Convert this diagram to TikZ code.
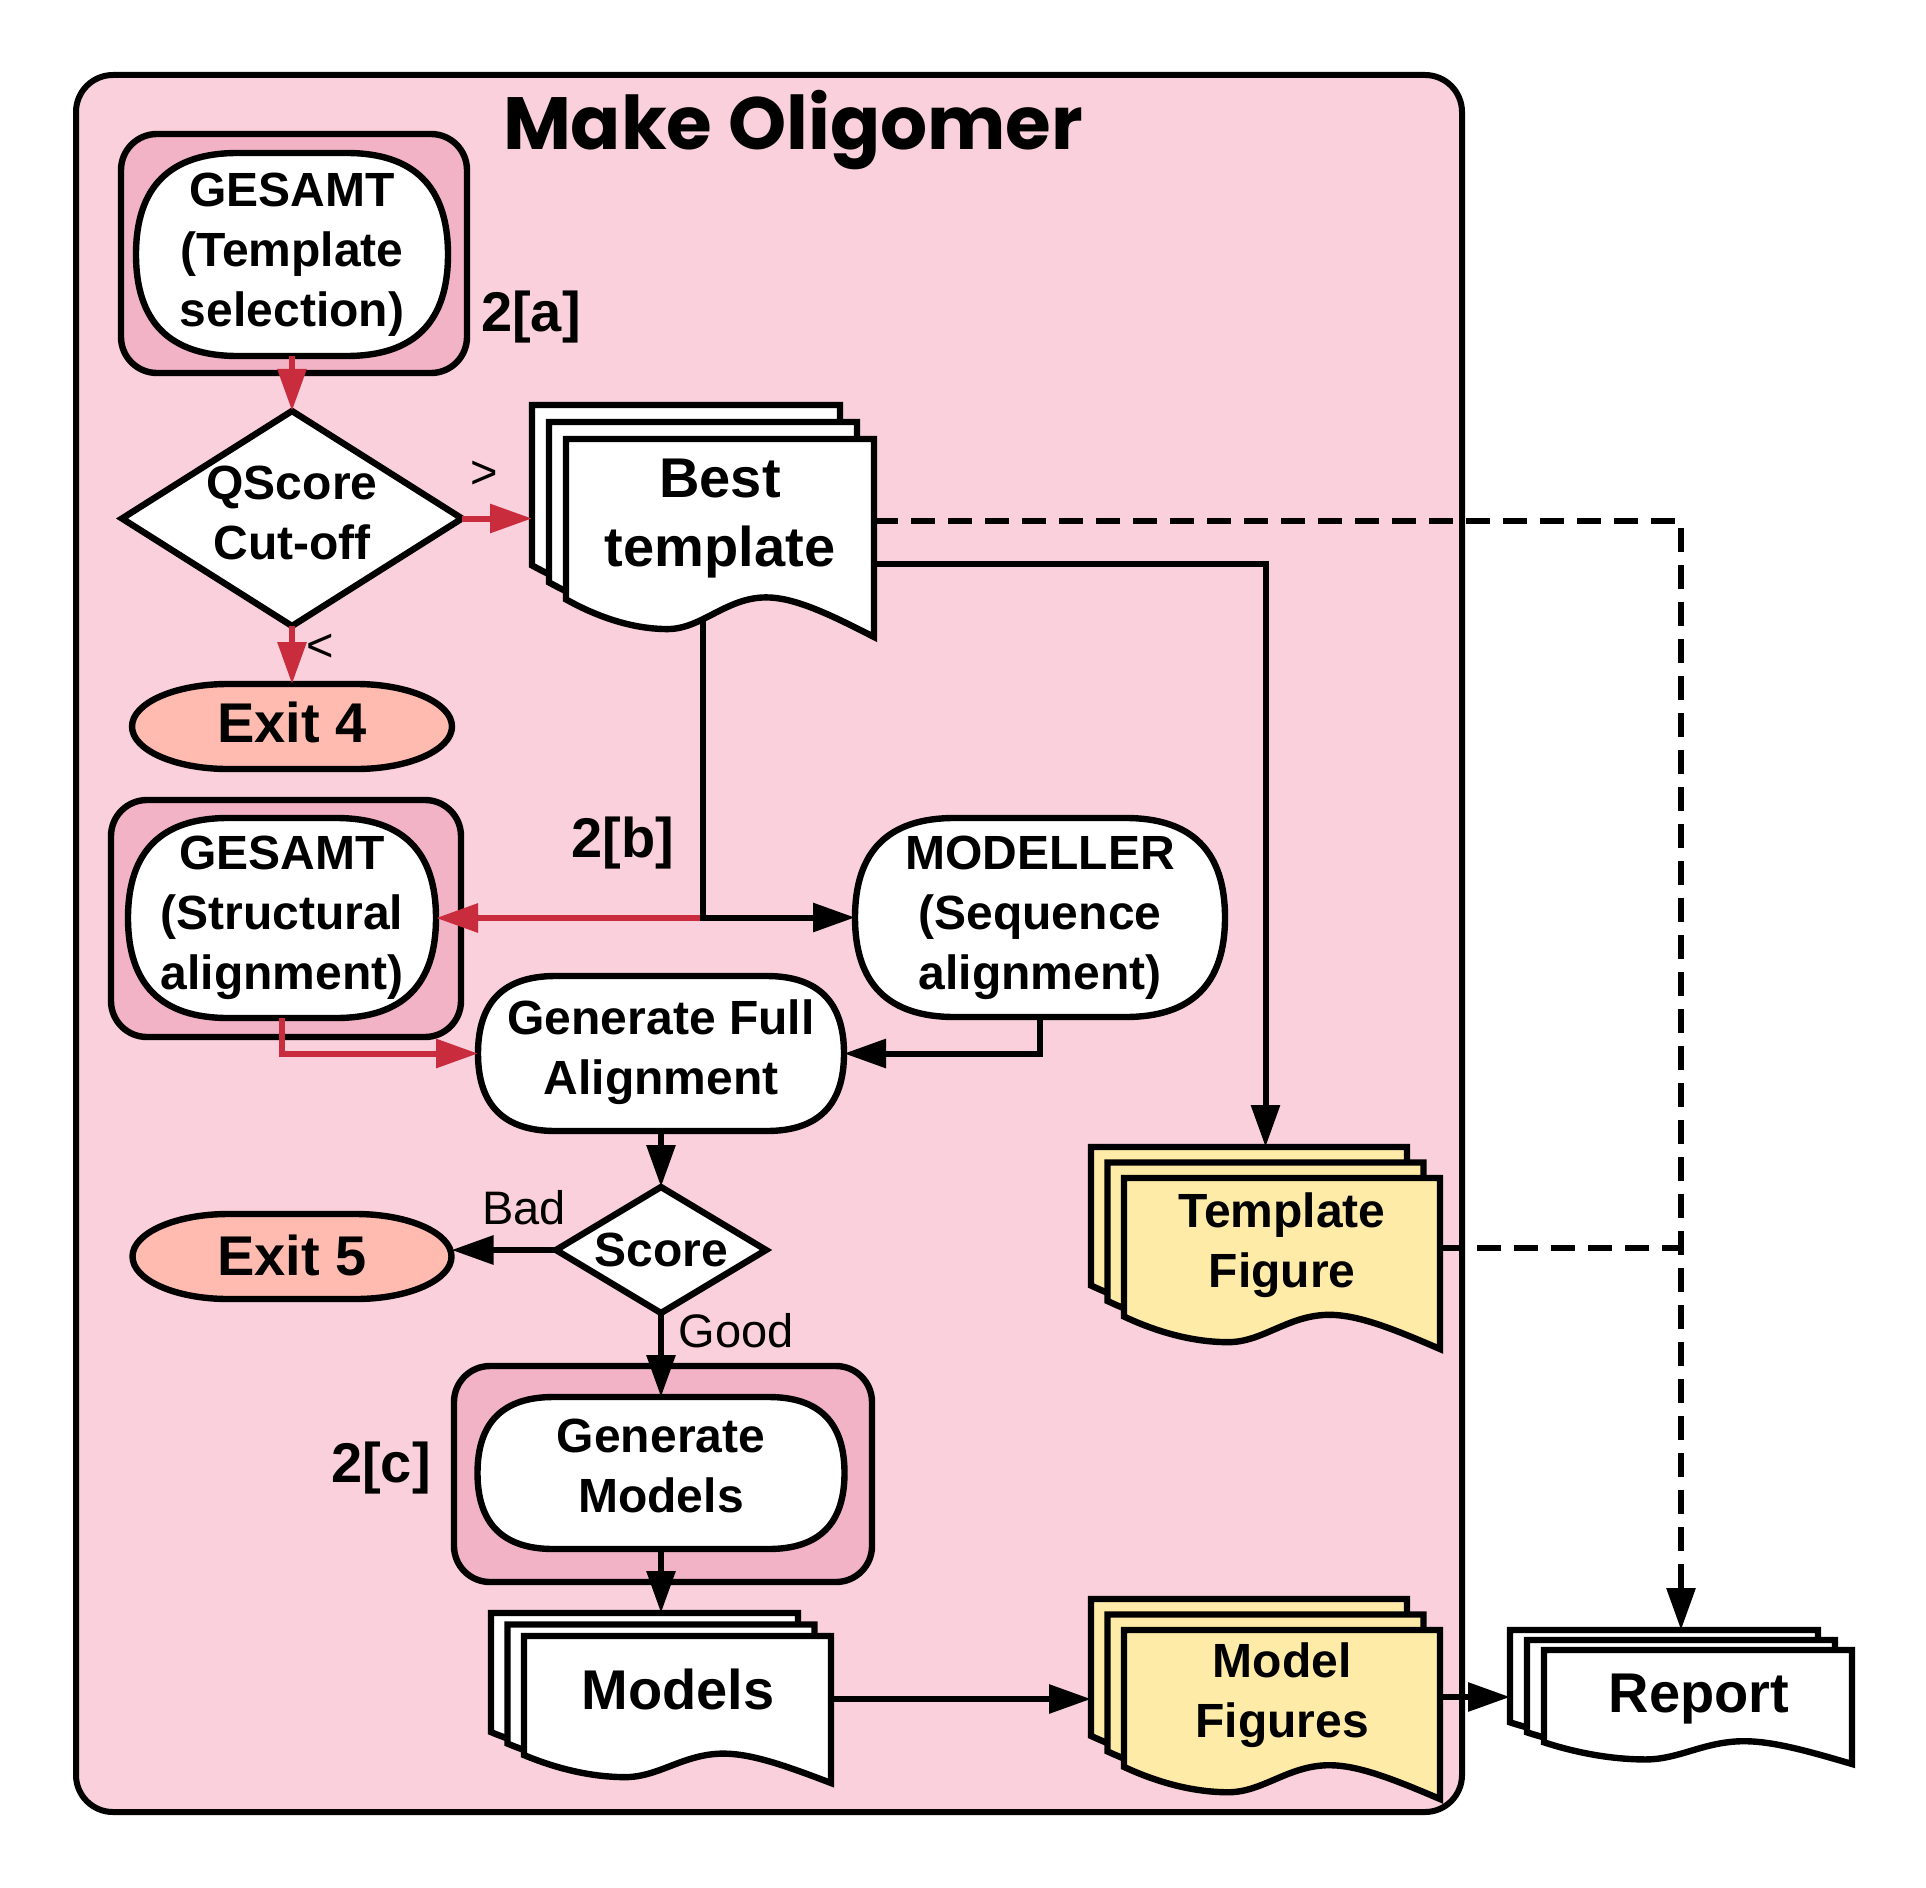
\documentclass[tikz,border=0pt]{standalone}
\usepackage{fontspec}
\setmainfont{Liberation Sans}
\newfontfamily\titlefont{Poppins}
\usetikzlibrary{arrows.meta,calc}
\pgfdeclarelayer{bg}
\pgfsetlayers{bg,main}
\definecolor{bgpink}{HTML}{F9D0DC}
\definecolor{boxpink}{HTML}{F2B3C7}
\definecolor{exitfill}{HTML}{FFBBB0}
\definecolor{docyellow}{HTML}{FFEBA8}
\definecolor{arrowred}{HTML}{C92C3C}
\tikzset{
 anc/.style={inner sep=0pt, outer sep=0pt, draw=none},
 shapeline/.style={draw=black, line width=3.2pt},
 conn/.style={draw=black, line width=3pt, -{Triangle[length=21pt,width=14pt]}},
 redconn/.style={conn, draw=arrowred},
 dashconn/.style={draw=black, line width=3pt, dash pattern=on 12pt off 6.5pt},
 lbl/.style={font=\fontsize{24pt}{30pt}\selectfont\bfseries, align=center, inner sep=0pt},
 biglbl/.style={font=\fontsize{28pt}{34.5pt}\selectfont\bfseries, align=center, inner sep=0pt},
 small/.style={font=\fontsize{23.5pt}{28pt}\selectfont, inner sep=0pt},
}
% rounded rectangle (arc corners)
\newcommand\rbox[6]{%
 \node[anc, minimum width=#4*0.5pt, minimum height=#5*0.5pt] (#1) at (#2,#3) {};
 \begin{pgfonlayer}{bg}\draw[#6] (#1.north west) rectangle (#1.south east);\end{pgfonlayer}}
% box with quadratic corners, r = h/2
\newcommand\qbox[6]{%
 \node[anc, minimum width=#4*0.5pt, minimum height=#5*0.5pt] (#1) at (#2,#3) {};
 \pgfmathsetmacro\xa{#2-#4/2}\pgfmathsetmacro\xb{#2+#4/2}%
 \pgfmathsetmacro\ya{#3-#5/2}\pgfmathsetmacro\yb{#3+#5/2}%
 \pgfmathsetmacro\rr{#5/2}%
 \begin{pgfonlayer}{bg}
 \draw[#6] (\xa+\rr,\ya) -- (\xb-\rr,\ya) .. controls (\xb-\rr/3,\ya) and (\xb,\ya+\rr/3) .. (\xb,#3)
   .. controls (\xb,\yb-\rr/3) and (\xb-\rr/3,\yb) .. (\xb-\rr,\yb) -- (\xa+\rr,\yb)
   .. controls (\xa+\rr/3,\yb) and (\xa,\yb-\rr/3) .. (\xa,#3)
   .. controls (\xa,\ya+\rr/3) and (\xa+\rr/3,\ya) .. cycle;
 \end{pgfonlayer}}
% terminator: elliptical ends rx = 0.3 w
\newcommand\tbox[6]{%
 \node[anc, minimum width=#4*0.5pt, minimum height=#5*0.5pt] (#1) at (#2,#3) {};
 \pgfmathsetmacro\xa{#2-#4/2}\pgfmathsetmacro\xb{#2+#4/2}%
 \pgfmathsetmacro\ya{#3-#5/2}\pgfmathsetmacro\yb{#3+#5/2}%
 \pgfmathsetmacro\rr{#5/2}\pgfmathsetmacro\rx{0.3*#4}%
 \begin{pgfonlayer}{bg}
 \draw[#6] (\xa+\rx,\ya) -- (\xb-\rx,\ya) arc[start angle=-90, end angle=90, x radius=\rx, y radius=\rr]
   -- (\xa+\rx,\yb) arc[start angle=90, end angle=270, x radius=\rx, y radius=\rr] -- cycle;
 \end{pgfonlayer}}
% diamond
\newcommand\dbox[6]{%
 \node[anc, minimum width=#4*0.5pt, minimum height=#5*0.5pt] (#1) at (#2,#3) {};
 \begin{pgfonlayer}{bg}\draw[#6] (#1.north) -- (#1.east) -- (#1.south) -- (#1.west) -- cycle;\end{pgfonlayer}}
% one document sheet: x y w h fill
\newcommand\docsheet[5]{%
 \pgfmathsetmacro\sa{#1}\pgfmathsetmacro\sb{#2}\pgfmathsetmacro\sw{#3}\pgfmathsetmacro\sh{#4}%
 \draw[shapeline, fill=#5] (\sa,\sb) -- (\sa+\sw,\sb) -- (\sa+\sw,\sb+\sh)
   .. controls (\sa+0.85*\sw,\sb+0.88*\sh) and (\sa+0.74*\sw,\sb+0.80*\sh) .. (\sa+0.65*\sw,\sb+0.80*\sh)
   .. controls (\sa+0.52*\sw,\sb+0.80*\sh) and (\sa+0.44*\sw,\sb+0.96*\sh) .. (\sa+0.33*\sw,\sb+0.96*\sh)
   .. controls (\sa+0.2*\sw,\sb+0.96*\sh) and (\sa+0.08*\sw,\sb+0.88*\sh) .. (\sa,\sb+0.81*\sh) -- cycle;}
% stack of three sheets: name x y w h dx dy fill  (x,y = front sheet top-left)
\newcommand\docstack[8]{%
 \pgfmathsetmacro\dsx{#2-2*#6}\pgfmathsetmacro\dsy{#3-2*#7}%
 \pgfmathsetmacro\dmx{#2-#6}\pgfmathsetmacro\dmy{#3-#7}%
 \pgfmathsetmacro\dscx{(\dsx+#2+#4)/2}\pgfmathsetmacro\dscy{(\dsy+#3+#5)/2}%
 \pgfmathsetmacro\dsw{#2+#4-\dsx}\pgfmathsetmacro\dsh{#3+#5-\dsy}%
 \node[anc, minimum width=\dsw*0.5pt, minimum height=\dsh*0.5pt] (#1) at (\dscx,\dscy) {};
 \begin{pgfonlayer}{bg}
 \docsheet{\dsx}{\dsy}{#4}{#5}{#8}
 \docsheet{\dmx}{\dmy}{#4}{#5}{#8}
 \docsheet{#2}{#3}{#4}{#5}{#8}
 \end{pgfonlayer}}
\begin{document}
\begin{tikzpicture}[x=0.5pt,y=-0.5pt]
\useasboundingbox (0,0) rectangle (1926,1888);
\begin{pgfonlayer}{bg}\fill[white] (0,0) rectangle (1926,1888);\end{pgfonlayer}

% container
\rbox{oligomer}{769}{943.5}{1386}{1737}{shapeline, line width=3pt, fill=bgpink, rounded corners=18.5pt}
\node[font=\titlefont\bfseries\fontsize{37pt}{40pt}\selectfont, anchor=base, inner sep=0pt] (title) at (793,150) {Make Oligomer};

% 2[a] GESAMT template selection
\rbox{gesamtAout}{294}{253.5}{346}{239}{shapeline, fill=boxpink, rounded corners=18pt}
\qbox{gesamtA}{292}{254.5}{312}{203}{shapeline, fill=white}
\node[lbl] (gesamtAtxt) at (292,255) {GESAMT\\(Template\\selection)};
\node[biglbl, anchor=base] (laba) at (531,332) {2[a]};

% QScore
\dbox{qscore}{292}{518.5}{340}{215}{shapeline, fill=white}
\node[lbl] (qscoretxt) at (292,513) {QScore\\Cut-off};
\node[small] (gt) at (484,475) {>};
\node[small] (lt) at (320,648) {<};

% Exit 4
\tbox{exit4}{292}{726.5}{320}{85}{shapeline, fill=exitfill}
\node[biglbl, anchor=base] (exit4txt) at (292,742) {Exit 4};

% Best template
\docstack{best}{566}{439}{308}{198}{17}{17}{white}
\node[biglbl] (besttxt) at (720,518.5) {Best\\template};

% 2[b]
\rbox{gstructout}{286}{918.5}{350}{237}{shapeline, fill=boxpink, rounded corners=18pt}
\qbox{gstruct}{282}{918}{308}{200}{shapeline, fill=white}
\node[lbl] (gstructtxt) at (282,918) {GESAMT\\(Structural\\alignment)};
\node[biglbl, anchor=base] (labb) at (623,857) {2[b]};

\qbox{modeller}{1040}{917.5}{370}{199}{shapeline, fill=white}
\node[lbl] (modellertxt) at (1040,918) {MODELLER\\(Sequence\\alignment)};

\qbox{gfa}{661}{1053.5}{366}{155}{shapeline, fill=white}
\node[lbl] (gfatxt) at (661,1052.5) {Generate Full\\Alignment};

% Score
\dbox{score}{661}{1250}{210}{126}{shapeline, fill=white}
\node[lbl, anchor=base] (scoretxt) at (661,1266) {Score};
\tbox{exit5}{292}{1256.5}{319}{85}{shapeline, fill=exitfill}
\node[biglbl, anchor=base] (exit5txt) at (292,1275) {Exit 5};
\node[small, anchor=base] (bad) at (524,1224) {Bad};
\node[small, anchor=base] (good) at (736,1347) {Good};

% 2[c]
\rbox{genout}{663}{1474}{418}{216}{shapeline, fill=boxpink, rounded corners=18pt}
\qbox{genmodels}{661}{1473}{367}{152}{shapeline, fill=white}
\node[lbl] (genmodelstxt) at (661,1465.5) {Generate\\Models};
\node[biglbl, anchor=base] (labc) at (381,1482) {2[c]};

% documents
\docstack{models}{524}{1636}{307}{147}{16.5}{11.5}{white}
\node[biglbl, anchor=base] (modelstxt) at (678,1709) {Models};
\docstack{tfig}{1124}{1178}{316}{171}{16.5}{15.5}{docyellow}
\node[lbl] (tfigtxt) at (1282,1245.5) {Template\\Figure};
\docstack{mfig}{1124}{1630}{316}{169}{16.5}{15.5}{docyellow}
\node[lbl] (mfigtxt) at (1282,1695.5) {Model\\Figures};
\docstack{report}{1544}{1650}{308}{114}{17}{10}{white}
\node[biglbl, anchor=base] (reporttxt) at (1699,1712) {Report};

% connectors
\draw[redconn] (gesamtA.south) -- (qscore.north);
\draw[redconn] (qscore.east) -- (qscore.east -| best.west);
\draw[redconn] (qscore.south) -- (exit4.north);
\draw[dashconn, -{Triangle[length=21pt,width=14pt]}] (best.east) -| (report.north);
\draw[conn] ($(best.east)+(0,43)$) -| (tfig.north);
\coordinate (bestbot) at (703,619);
\draw[redconn] (bestbot |- gstruct.east) -- (gstruct.east);
\draw[conn] (bestbot) |- (modeller.west);
\draw[redconn] (gstruct.south) |- (gfa.west);
\draw[conn] (modeller.south) |- (gfa.east);
\draw[conn] (gfa.south) -- (score.north);
\draw[conn] (score.west) -- (score.west -| exit5.east);
\draw[conn] (score.south) -- (genmodels.north);
\draw[conn] (genmodels.south) -- (models.north);
\draw[conn] (models.east |- mfig.west) -- (mfig.west);
\draw[conn] (mfig.east |- report.west) -- (report.west);
\draw[dashconn] (tfig.east) -- (tfig.east -| report.north);
\end{tikzpicture}
\end{document}
